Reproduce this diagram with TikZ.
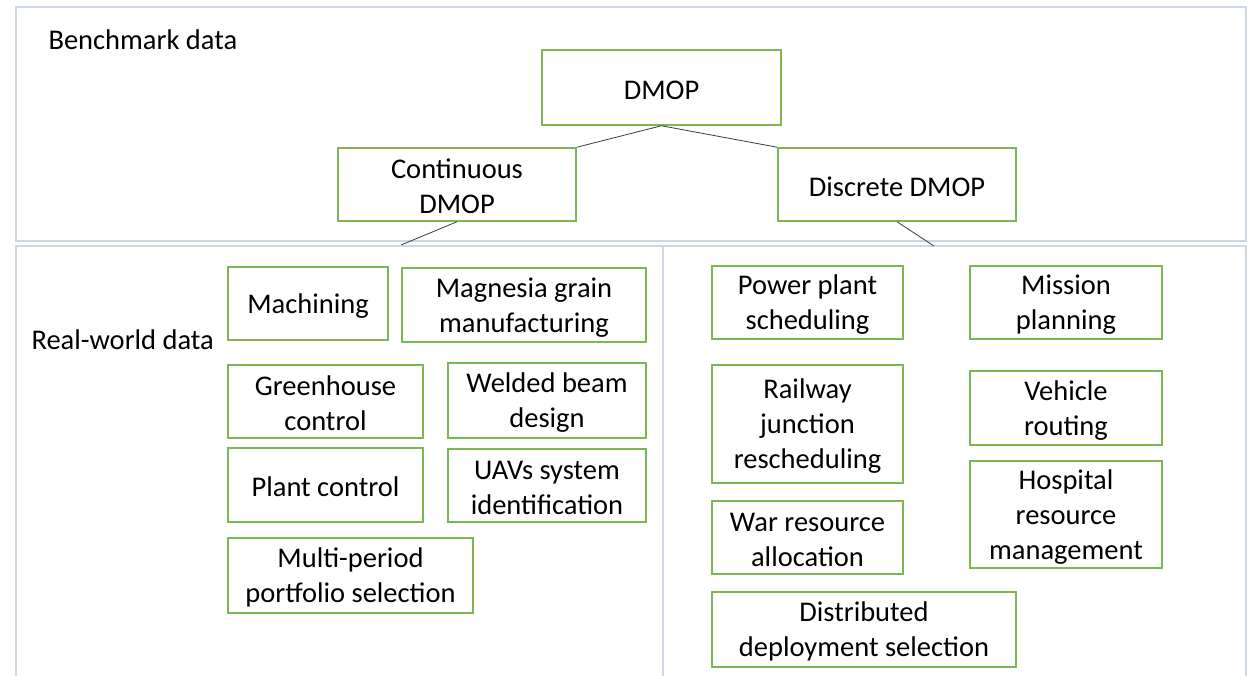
\documentclass[tikz,border=0pt]{standalone}
\usepackage{fontspec}
\setmainfont{Carlito}
\definecolor{panelc}{RGB}{205,215,232}
\definecolor{boxc}{RGB}{125,183,85}
\definecolor{linec}{RGB}{60,60,60}
\begin{document}
\begin{tikzpicture}[x=1pt,y=-1pt,
  every node/.style={font=\fontsize{28.5}{35}\selectfont},
  gbox/.style={draw=boxc,line width=1.5pt,fill=white,inner sep=0pt,align=center,
    minimum width=#1},
  lone/.style={text height=24pt},
  ltwo/.style={text height=59pt},
  lthree/.style={text height=94pt},
  panel/.style={draw=panelc,line width=1.8pt},
  conn/.style={draw=linec,line width=0.8pt}]
\useasboundingbox[fill=white] (0,0) rectangle (1258,675);
% panels
\draw[panel] (16,7) rectangle (1246,241);
\draw[panel] (16,680) -- (16,246) -- (663,246) -- (663,680);
\draw[panel] (663,680) -- (663,246) -- (1246,246) -- (1246,680);
% labels
\node[anchor=west] (bench) at (45,40) {Benchmark data};
\node[anchor=west] (real) at (28,340) {Real-world data};
% top tree
\node[gbox=239pt,lone,minimum height=75pt] (dmop) at (661.5,87.5) {DMOP};
\node[gbox=238pt,ltwo,minimum height=73pt] (cont) at (457,184.5) {Continuous\\DMOP};
\node[gbox=238pt,lone,minimum height=73pt] (disc) at (897,184.5) {Discrete DMOP};
\draw[conn] (dmop.south) -- (cont.north east);
\draw[conn] (dmop.south) -- (disc.north west);
\coordinate (cend) at (401,245);
\coordinate (dend) at (934,246);
\draw[conn] (cont.south) -- (cend);
\draw[conn] (disc.south) -- (dend);
% continuous applications
\node[gbox=160pt,lone,minimum height=73pt] (mach) at (308,303.5) {Machining};
\node[gbox=244pt,ltwo,minimum height=74pt] (magn) at (524,305) {Magnesia grain\\manufacturing};
\node[gbox=195pt,ltwo,minimum height=73pt] (green) at (325.5,401.5) {Greenhouse\\control};
\node[gbox=198pt,ltwo,minimum height=75pt] (weld) at (547,400.5) {Welded beam\\design};
\node[gbox=195pt,lone,minimum height=74pt] (plant) at (325.5,485) {Plant control};
\node[gbox=198pt,ltwo,minimum height=73pt] (uav) at (547,485.5) {UAVs system\\identification};
\node[gbox=245pt,ltwo,minimum height=75pt] (multi) at (350.5,575.5) {Multi-period\\portfolio selection};
% discrete applications
\node[gbox=191pt,ltwo,minimum height=73pt] (power) at (807.5,302.5) {Power plant\\scheduling};
\node[gbox=192pt,ltwo,minimum height=73pt] (miss) at (1066,302.5) {Mission\\planning};
\node[gbox=191pt,lthree,minimum height=118pt] (rail) at (807.5,424) {Railway\\junction\\rescheduling};
\node[gbox=192pt,ltwo,minimum height=74pt] (veh) at (1066,408) {Vehicle\\routing};
\node[gbox=192pt,lthree,minimum height=107pt] (hosp) at (1066,514.5) {Hospital\\resource\\management};
\node[gbox=191pt,ltwo,minimum height=73pt] (war) at (807.5,537.5) {War resource\\allocation};
\node[gbox=304pt,ltwo,minimum height=75pt] (dist) at (864,629.5) {Distributed\\deployment selection};
\end{tikzpicture}
\end{document}
